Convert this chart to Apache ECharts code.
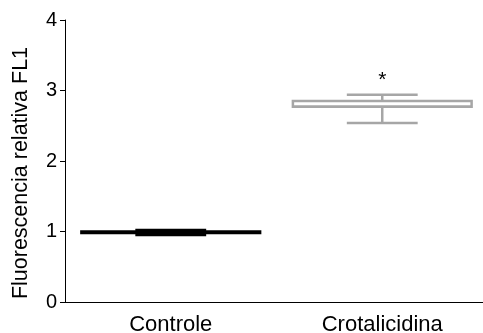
<!DOCTYPE html>
<html><head><meta charset="utf-8">
<script src="https://cdn.jsdelivr.net/npm/echarts@6/dist/echarts.min.js"></script>
<style>html,body{margin:0;padding:0;background:#fff}#c{width:483px;height:333px}</style>
</head><body><div id="c"></div>
<script>
var categories = ['Controle', 'Crotalicidina'];
// [min, Q1, median, Q3, max]
var controleBox = [0.95, 0.98, 0.99, 1.0, 1.02];
var crotalicidinaBox = [2.54, 2.77, 2.77, 2.85, 2.94];
var seriesColors = ['#000000', '#a6a6a6'];
var significance = ['', '*'];
var significanceY = [null, 3.15];
var yTicks = [0, 1, 2, 3, 4];
var yTitle = 'Fluorescencia relativa FL1';

var boxes = [controleBox, crotalicidinaBox];
var data = boxes.map(function (b, i) { return [i].concat(b); });

var chart = echarts.init(document.getElementById('c'));
chart.setOption({
  animation: false,
  grid: { left: 65, right: -5, top: 20, bottom: 31, containLabel: false, outerBoundsMode: 'none' },
  graphic: [{
    type: 'text', x: 21, y: 173, rotation: Math.PI / 2,
    style: { text: yTitle, fill: '#000', font: '21.5px "Liberation Sans"', align: 'center', verticalAlign: 'middle' }
  }],
  xAxis: {
    type: 'category', data: categories,
    axisLine: { lineStyle: { color: '#000', width: 1 } },
    axisTick: { alignWithLabel: true, length: 6, lineStyle: { color: '#000' } },
    axisLabel: { color: '#000', fontSize: 22, fontFamily: 'Liberation Sans', margin: 12 }
  },
  yAxis: {
    type: 'value', min: 0, max: 4, interval: 1,
    axisLine: { show: true, lineStyle: { color: '#000', width: 1 } },
    axisTick: { show: true, length: 5, lineStyle: { color: '#000' } },
    splitLine: { show: false },
    axisLabel: { color: '#000', fontSize: 20, fontFamily: 'Liberation Sans', margin: 8,
      formatter: function (v) { return yTicks.indexOf(v) >= 0 ? String(v) : ''; } }
  },
  series: [{
    type: 'custom',
    data: data,
    renderItem: function (params, api) {
      var i = api.value(0);
      var band = api.size([1, 0])[0];
      var bw = band * 0.845, cw = band * 0.335;
      var col = seriesColors[i];
      var lw = 2.5;
      var pMin = api.coord([i, api.value(1)]);
      var pQ1 = api.coord([i, api.value(2)]);
      var pMed = api.coord([i, api.value(3)]);
      var pQ3 = api.coord([i, api.value(4)]);
      var pMax = api.coord([i, api.value(5)]);
      var x = pMin[0];
      var st = { stroke: col, lineWidth: lw, fill: null };
      var children = [
        { type: 'line', shape: { x1: x, y1: pQ3[1], x2: x, y2: pMax[1] }, style: st },
        { type: 'line', shape: { x1: x, y1: pQ1[1], x2: x, y2: pMin[1] }, style: st },
        { type: 'line', shape: { x1: x - cw / 2, y1: pMax[1], x2: x + cw / 2, y2: pMax[1] }, style: st },
        { type: 'line', shape: { x1: x - cw / 2, y1: pMin[1], x2: x + cw / 2, y2: pMin[1] }, style: st },
        { type: 'rect', shape: { x: x - bw / 2, y: pQ3[1], width: bw, height: pQ1[1] - pQ3[1] },
          style: { stroke: col, lineWidth: lw, fill: '#fff' } },
        { type: 'line', shape: { x1: x - bw / 2, y1: pMed[1], x2: x + bw / 2, y2: pMed[1] }, style: st }
      ];
      if (significance[i]) {
        var ps = api.coord([i, significanceY[i]]);
        children.push({ type: 'text', x: ps[0], y: ps[1],
          style: { text: significance[i], fill: '#000', font: '21px "Liberation Sans"', align: 'center', verticalAlign: 'middle' } });
      }
      return { type: 'group', children: children };
    }
  }]
});
</script></body></html>
